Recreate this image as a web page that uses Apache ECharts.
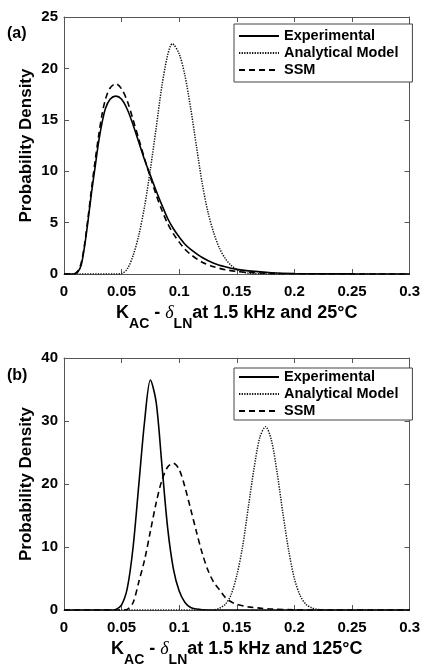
<!DOCTYPE html>
<html>
<head>
<meta charset="utf-8">
<style>
  html, body { margin: 0; padding: 0; background: #fff; }
  #chart { width: 423px; height: 668px; }
</style>
<script src="https://cdn.jsdelivr.net/npm/echarts@6/dist/echarts.min.js"></script>
</head>
<body>
<div id="chart"></div>
<script>
// ---------- Data ----------
const seriesNames = ['Experimental', 'Analytical Model', 'SSM'];
const xTickLabels = ['0', '0.05', '0.1', '0.15', '0.2', '0.25', '0.3'];
const yTickLabelsA = ['0', '5', '10', '15', '20', '25'];
const yTickLabelsB = ['0', '10', '20', '30', '40'];

// Panel (a): 1.5 kHz, 25 °C
const aExpX = [0, 0.008, 0.012, 0.015, 0.018, 0.021, 0.024, 0.027, 0.030, 0.033, 0.036, 0.040, 0.045, 0.050, 0.055, 0.060, 0.065, 0.070, 0.075, 0.080, 0.085, 0.090, 0.095, 0.100, 0.105, 0.110, 0.120, 0.130, 0.140, 0.150, 0.160, 0.180, 0.200, 0.250, 0.300];
const aExpY = [0, 0, 0.2, 0.9, 2.8, 5.3, 8.0, 10.4, 12.8, 14.7, 16.1, 17.0, 17.3, 17.0, 16.0, 14.5, 12.8, 11.1, 9.6, 8.1, 6.7, 5.4, 4.4, 3.6, 2.9, 2.4, 1.6, 1.05, 0.7, 0.45, 0.3, 0.12, 0.05, 0.01, 0];

const aAnaX = [0, 0.045, 0.050, 0.055, 0.060, 0.065, 0.070, 0.075, 0.080, 0.085, 0.090, 0.094, 0.100, 0.105, 0.110, 0.115, 0.120, 0.125, 0.130, 0.135, 0.140, 0.145, 0.150, 0.155, 0.160, 0.170, 0.180, 0.300];
const aAnaY = [0, 0, 0.05, 0.5, 1.8, 3.8, 6.6, 10.2, 14.2, 18.3, 21.3, 22.4, 21.4, 19.3, 16.1, 12.4, 8.8, 6.0, 4.0, 2.5, 1.5, 0.85, 0.45, 0.2, 0.08, 0.01, 0, 0];

const aSsmX = [0, 0.008, 0.012, 0.015, 0.018, 0.021, 0.024, 0.027, 0.030, 0.033, 0.036, 0.040, 0.045, 0.050, 0.055, 0.060, 0.065, 0.070, 0.075, 0.080, 0.085, 0.090, 0.095, 0.100, 0.105, 0.110, 0.120, 0.130, 0.140, 0.150, 0.160, 0.180, 0.200, 0.300];
const aSsmY = [0, 0, 0.3, 1.1, 3.0, 5.6, 8.4, 11.0, 13.4, 15.5, 17.0, 18.1, 18.5, 18.0, 16.8, 15.0, 13.1, 11.2, 9.4, 7.7, 6.2, 4.9, 3.9, 3.1, 2.4, 1.9, 1.15, 0.7, 0.42, 0.25, 0.15, 0.05, 0.02, 0];

// Panel (b): 1.5 kHz, 125 °C
const bExpX = [0, 0.040, 0.045, 0.050, 0.055, 0.060, 0.065, 0.070, 0.075, 0.080, 0.085, 0.090, 0.095, 0.100, 0.105, 0.110, 0.115, 0.120, 0.130, 0.300];
const bExpY = [0, 0, 0.1, 0.8, 3.5, 10.0, 20.0, 30.0, 36.5, 33.0, 23.0, 13.0, 6.5, 3.0, 1.2, 0.4, 0.15, 0.05, 0, 0];

const bAnaX = [0, 0.130, 0.135, 0.140, 0.145, 0.150, 0.155, 0.160, 0.165, 0.170, 0.175, 0.180, 0.185, 0.190, 0.195, 0.200, 0.205, 0.210, 0.215, 0.220, 0.225, 0.230, 0.300];
const bAnaY = [0, 0, 0.3, 0.9, 2.4, 5.5, 10.0, 16.3, 22.5, 27.4, 29.1, 27.0, 21.8, 15.4, 9.5, 5.0, 2.3, 0.9, 0.35, 0.1, 0.03, 0, 0];

const bSsmX = [0, 0.050, 0.055, 0.060, 0.065, 0.070, 0.075, 0.080, 0.085, 0.090, 0.095, 0.100, 0.105, 0.110, 0.115, 0.120, 0.125, 0.130, 0.135, 0.140, 0.145, 0.150, 0.160, 0.170, 0.180, 0.200, 0.220, 0.300];
const bSsmY = [0, 0, 0.1, 1.2, 4.5, 8.0, 12.5, 17.0, 20.6, 22.7, 23.3, 22.3, 19.5, 16.0, 12.4, 9.0, 6.3, 4.4, 3.2, 2.0, 1.3, 0.9, 0.5, 0.3, 0.15, 0.03, 0, 0];

// ---------- Helpers ----------
const zip = (xs, ys) => xs.map((x, i) => [x, ys[i]]);
const FONT = 'Liberation Sans, Arial, sans-serif';
const AXIS_COLOR = '#555';

const lineStyles = {
  'Experimental': { color: '#000', width: 1.6, type: 'solid' },
  'Analytical Model': { color: '#111', width: 1.5, type: [1.3, 1.3] },
  'SSM': { color: '#000', width: 1.6, type: [6, 4] }
};

function mkSeries(name, data, gi) {
  const ls = lineStyles[name];
  return {
    name: name, type: 'line', xAxisIndex: gi * 2, yAxisIndex: gi * 2,
    data: data, showSymbol: false, symbol: 'none', smooth: 0.3,
    lineStyle: { color: ls.color, width: ls.width, type: ls.type },
    itemStyle: { color: ls.color },
    emphasis: { disabled: true }, animation: false
  };
}

function xTitle(temp) {
  return '{k|K}{sub|AC}{n| - }{d|δ}{sub|LN}{n|at 1.5 kHz and ' + temp + '°C}';
}
const xTitleRich = {
  k: { fontSize: 18, fontWeight: 'bold', fontFamily: FONT, color: '#000', lineHeight: 20, verticalAlign: 'top' },
  n: { fontSize: 18, fontWeight: 'bold', fontFamily: FONT, color: '#000', lineHeight: 20, verticalAlign: 'top' },
  d: { fontSize: 18, fontStyle: 'italic', fontWeight: 'normal', fontFamily: 'Liberation Serif, serif', color: '#000', lineHeight: 20, verticalAlign: 'top' },
  sub: { fontSize: 14, fontWeight: 'bold', fontFamily: FONT, color: '#000', lineHeight: 14, padding: [13, 0, 0, 0], verticalAlign: 'top' }
};

function xAxes(gi, temp) {
  return [
    {
      gridIndex: gi, type: 'value', position: 'bottom', min: 0, max: 0.3, interval: 0.05,
      axisLine: { show: true, onZero: false, lineStyle: { color: AXIS_COLOR, width: 1 } },
      axisTick: { show: true, inside: true, length: 5, lineStyle: { color: AXIS_COLOR } },
      axisLabel: {
        show: true, margin: 10, color: '#000', fontSize: 15, fontWeight: 'bold', fontFamily: FONT,
        formatter: v => xTickLabels[Math.round(v / 0.05)]
      },
      splitLine: { show: false },
      name: xTitle(temp), nameLocation: 'middle', nameGap: 30,
      nameTextStyle: { rich: xTitleRich }
    },
    {
      gridIndex: gi, type: 'value', position: 'top', min: 0, max: 0.3, interval: 0.05,
      axisLine: { show: true, onZero: false, lineStyle: { color: AXIS_COLOR, width: 1 } },
      axisTick: { show: true, inside: true, length: 5, lineStyle: { color: AXIS_COLOR } },
      axisLabel: { show: false }, splitLine: { show: false }
    }
  ];
}

function yAxes(gi, max, interval, labels) {
  return [
    {
      gridIndex: gi, type: 'value', position: 'left', min: 0, max: max, interval: interval,
      axisLine: { show: true, onZero: false, lineStyle: { color: AXIS_COLOR, width: 1 } },
      axisTick: { show: true, inside: true, length: 5, lineStyle: { color: AXIS_COLOR } },
      axisLabel: {
        show: true, margin: 6, color: '#000', fontSize: 15, fontWeight: 'bold', fontFamily: FONT,
        formatter: v => labels[Math.round(v / interval)]
      },
      splitLine: { show: false },
      name: 'Probability Density', nameLocation: 'middle', nameGap: 29,
      nameMoveOverlap: false,
      nameTextStyle: { fontSize: 17, fontWeight: 'bold', fontFamily: FONT, color: '#000' }
    },
    {
      gridIndex: gi, type: 'value', position: 'right', min: 0, max: max, interval: interval,
      axisLine: { show: true, onZero: false, lineStyle: { color: AXIS_COLOR, width: 1 } },
      axisTick: { show: true, inside: true, length: 5, lineStyle: { color: AXIS_COLOR } },
      axisLabel: { show: false }, splitLine: { show: false }
    }
  ];
}

function legend(top, padV) {
  return {
    data: seriesNames, orient: 'vertical', left: 234, top: top,
    backgroundColor: '#fff', borderColor: '#444', borderWidth: 1,
    padding: [padV, 14, padV, 4], itemGap: 1, itemWidth: 40, itemHeight: 14,
    selectedMode: false,
    itemStyle: { opacity: 0, borderWidth: 0 },
    textStyle: { fontSize: 14.5, fontWeight: 'bold', fontFamily: FONT, color: '#000', lineHeight: 16 }
  };
}

const chart = echarts.init(document.getElementById('chart'), null, { renderer: 'canvas' });
chart.setOption({
  backgroundColor: '#fff',
  animation: false,
  title: [
    { text: '(a)', left: 7, top: 26, textStyle: { fontSize: 16, fontWeight: 'bold', fontFamily: FONT, color: '#000' }, padding: 0 },
    { text: '(b)', left: 7, top: 368, textStyle: { fontSize: 16, fontWeight: 'bold', fontFamily: FONT, color: '#000' }, padding: 0 }
  ],
  grid: [
    { left: 64, right: 11, top: 17, height: 257 },
    { left: 64, right: 11, top: 358, height: 257 }
  ],
  xAxis: [...xAxes(0, '25'), ...xAxes(1, '125')],
  yAxis: [...yAxes(0, 25, 5, yTickLabelsA), ...yAxes(1, 40, 10, yTickLabelsB)],
  legend: [legend(24, 4), legend(368, 1)],
  series: [
    mkSeries('Experimental', zip(aExpX, aExpY), 0),
    mkSeries('Analytical Model', zip(aAnaX, aAnaY), 0),
    mkSeries('SSM', zip(aSsmX, aSsmY), 0),
    mkSeries('Experimental', zip(bExpX, bExpY), 1),
    mkSeries('Analytical Model', zip(bAnaX, bAnaY), 1),
    mkSeries('SSM', zip(bSsmX, bSsmY), 1)
  ]
});
</script>
</body>
</html>
